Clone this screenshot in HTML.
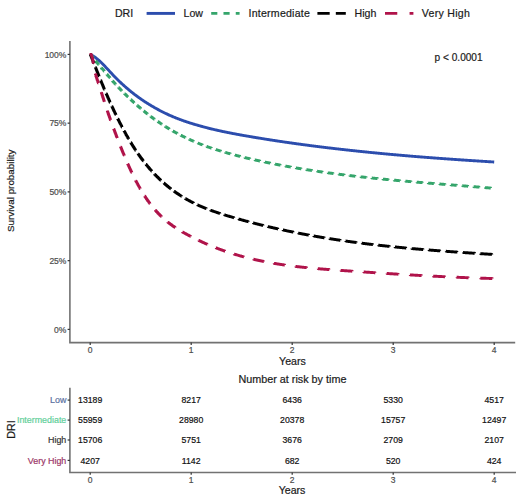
<!DOCTYPE html>
<html><head><meta charset="utf-8"><style>
html,body{margin:0;padding:0;background:#fff;}
body{width:520px;height:501px;overflow:hidden;}
svg{display:block;font-family:"Liberation Sans", sans-serif;}
text{stroke:currentColor;stroke-width:0.2px;paint-order:stroke;}
</style></head><body>
<svg width="520" height="501" viewBox="0 0 520 501">
<rect width="520" height="501" fill="#fff"/>
<text x="114.9" y="17.3" font-size="10.6" text-anchor="start" fill="#1a1a1a" color="#1a1a1a" >DRI</text>
<path d="M146.6 13.4H175.0" stroke="#2C4DAD" stroke-width="2.9" fill="none"/>
<text x="183.5" y="17.3" font-size="10.6" text-anchor="start" fill="#1a1a1a" color="#1a1a1a" >Low</text>
<path d="M211.2 13.4H239.6" stroke="#35A56B" stroke-width="2.9" stroke-dasharray="6.14 6.14" fill="none"/>
<text x="248.5" y="17.3" font-size="10.6" text-anchor="start" fill="#1a1a1a" color="#1a1a1a" textLength="61.4" lengthAdjust="spacing">Intermediate</text>
<path d="M317.4 13.4H345.79999999999995" stroke="#000000" stroke-width="2.9" stroke-dasharray="12.28 6.14" fill="none"/>
<text x="354.6" y="17.3" font-size="10.6" text-anchor="start" fill="#1a1a1a" color="#1a1a1a" >High</text>
<path d="M385.0 13.4H413.4" stroke="#B0134A" stroke-width="2.9" stroke-dasharray="12.28 12.28" fill="none"/>
<text x="421.8" y="17.3" font-size="10.6" text-anchor="start" fill="#1a1a1a" color="#1a1a1a" textLength="48.0" lengthAdjust="spacing">Very High</text>
<path d="M69.9 41V342.6H515.2" stroke="#727272" stroke-width="1.6" fill="none"/>
<path d="M67.6 54.40H69.9" stroke="#333" stroke-width="1.2"/>
<text x="66.4" y="57.49999999999998" font-size="8.5" text-anchor="end" fill="#4D4D4D" color="#4D4D4D" >100%</text>
<path d="M67.6 123.15H69.9" stroke="#333" stroke-width="1.2"/>
<text x="66.4" y="126.24999999999997" font-size="8.5" text-anchor="end" fill="#4D4D4D" color="#4D4D4D" >75%</text>
<path d="M67.6 191.90H69.9" stroke="#333" stroke-width="1.2"/>
<text x="66.4" y="194.99999999999997" font-size="8.5" text-anchor="end" fill="#4D4D4D" color="#4D4D4D" >50%</text>
<path d="M67.6 260.65H69.9" stroke="#333" stroke-width="1.2"/>
<text x="66.4" y="263.75" font-size="8.5" text-anchor="end" fill="#4D4D4D" color="#4D4D4D" >25%</text>
<path d="M67.6 329.40H69.9" stroke="#333" stroke-width="1.2"/>
<text x="66.4" y="332.5" font-size="8.5" text-anchor="end" fill="#4D4D4D" color="#4D4D4D" >0%</text>
<path d="M90.20 342.6V345" stroke="#333" stroke-width="1.2"/>
<text x="90.2" y="352.9" font-size="8.5" text-anchor="middle" fill="#4D4D4D" color="#4D4D4D" >0</text>
<path d="M191.20 342.6V345" stroke="#333" stroke-width="1.2"/>
<text x="191.2" y="352.9" font-size="8.5" text-anchor="middle" fill="#4D4D4D" color="#4D4D4D" >1</text>
<path d="M292.20 342.6V345" stroke="#333" stroke-width="1.2"/>
<text x="292.2" y="352.9" font-size="8.5" text-anchor="middle" fill="#4D4D4D" color="#4D4D4D" >2</text>
<path d="M393.20 342.6V345" stroke="#333" stroke-width="1.2"/>
<text x="393.2" y="352.9" font-size="8.5" text-anchor="middle" fill="#4D4D4D" color="#4D4D4D" >3</text>
<path d="M494.20 342.6V345" stroke="#333" stroke-width="1.2"/>
<text x="494.2" y="352.9" font-size="8.5" text-anchor="middle" fill="#4D4D4D" color="#4D4D4D" >4</text>
<text x="292.4" y="365.3" font-size="10.6" text-anchor="middle" fill="#1a1a1a" color="#1a1a1a" >Years</text>
<text x="434.6" y="60.8" font-size="10.1" text-anchor="start" fill="#1a1a1a" color="#1a1a1a" >p &lt; 0.0001</text>
<text transform="translate(14.4 190.8) rotate(-90)" font-size="9.85" text-anchor="middle" fill="#1a1a1a" color="#1a1a1a">Survival probability</text>
<path d="M90.20 54.40 L90.70 54.63 L91.20 54.89 L91.70 55.15 L92.20 55.43 L92.70 55.72 L93.20 56.03 L93.70 56.34 L94.20 56.67 L94.70 57.01 L95.20 57.37 L95.70 57.74 L96.20 58.13 L96.70 58.52 L97.20 58.93 L97.70 59.34 L98.20 59.76 L98.70 60.19 L99.20 60.63 L99.70 61.08 L100.20 61.54 L100.70 62.02 L101.20 62.51 L101.70 63.00 L102.20 63.50 L102.70 64.01 L103.20 64.52 L103.70 65.03 L104.20 65.55 L104.70 66.07 L105.20 66.60 L105.70 67.13 L106.20 67.66 L106.70 68.19 L107.20 68.73 L107.70 69.27 L108.20 69.80 L108.70 70.34 L109.20 70.88 L109.70 71.42 L110.20 71.96 L110.70 72.50 L111.20 73.03 L111.70 73.57 L112.20 74.10 L112.70 74.63 L113.20 75.16 L113.70 75.68 L114.20 76.20 L114.70 76.72 L115.20 77.23 L115.70 77.74 L116.20 78.25 L116.70 78.75 L117.20 79.25 L117.70 79.74 L118.20 80.23 L118.70 80.72 L119.20 81.20 L119.70 81.68 L120.20 82.16 L120.70 82.63 L121.20 83.10 L121.70 83.57 L122.20 84.03 L122.70 84.49 L123.20 84.94 L123.70 85.39 L124.20 85.84 L124.70 86.29 L125.20 86.73 L125.70 87.17 L126.20 87.60 L126.70 88.03 L127.20 88.46 L127.70 88.89 L128.20 89.31 L128.70 89.73 L129.20 90.15 L129.70 90.56 L130.20 90.97 L130.70 91.37 L131.20 91.78 L131.70 92.18 L132.20 92.57 L132.70 92.97 L133.20 93.36 L133.70 93.75 L134.20 94.13 L134.70 94.52 L135.20 94.90 L135.70 95.27 L136.20 95.65 L136.70 96.02 L137.20 96.39 L137.70 96.75 L138.20 97.11 L138.70 97.47 L139.20 97.83 L139.70 98.19 L140.20 98.54 L140.70 98.89 L141.20 99.23 L141.70 99.58 L142.20 99.92 L142.70 100.26 L143.20 100.60 L143.70 100.93 L144.20 101.26 L144.70 101.59 L145.20 101.92 L145.70 102.24 L146.20 102.56 L146.70 102.88 L147.20 103.20 L147.70 103.52 L148.20 103.83 L148.70 104.14 L149.20 104.45 L149.70 104.75 L150.20 105.06 L150.70 105.36 L151.20 105.66 L151.70 105.95 L152.20 106.25 L152.70 106.54 L153.20 106.83 L153.70 107.12 L154.20 107.41 L154.70 107.69 L155.20 107.97 L155.70 108.25 L156.20 108.53 L156.70 108.81 L157.20 109.08 L157.70 109.36 L158.20 109.63 L158.70 109.89 L159.20 110.16 L159.70 110.42 L160.20 110.69 L160.70 110.95 L161.20 111.20 L161.70 111.46 L162.20 111.72 L162.70 111.97 L163.20 112.22 L163.70 112.47 L164.20 112.71 L164.70 112.96 L165.20 113.20 L165.70 113.44 L166.20 113.68 L166.70 113.92 L167.20 114.16 L167.70 114.39 L168.20 114.62 L168.70 114.85 L169.20 115.08 L169.70 115.31 L170.20 115.53 L170.70 115.75 L171.20 115.96 L171.70 116.18 L172.20 116.39 L172.70 116.60 L173.20 116.81 L173.70 117.02 L174.20 117.23 L174.70 117.43 L175.20 117.64 L175.70 117.84 L176.20 118.04 L176.70 118.24 L177.20 118.43 L177.70 118.63 L178.20 118.82 L178.70 119.01 L179.20 119.20 L179.70 119.39 L180.20 119.58 L180.70 119.76 L181.20 119.95 L181.70 120.13 L182.20 120.31 L182.70 120.49 L183.20 120.67 L183.70 120.85 L184.20 121.02 L184.70 121.20 L185.20 121.37 L185.70 121.54 L186.20 121.71 L186.70 121.88 L187.20 122.05 L187.70 122.21 L188.20 122.38 L188.70 122.54 L189.20 122.70 L189.70 122.86 L190.20 123.02 L190.70 123.18 L191.20 123.33 L191.70 123.49 L192.20 123.64 L192.70 123.79 L193.20 123.95 L193.70 124.10 L194.20 124.25 L194.70 124.39 L195.20 124.54 L195.70 124.68 L196.20 124.83 L196.70 124.97 L197.20 125.11 L197.70 125.25 L198.20 125.39 L198.70 125.53 L199.20 125.67 L199.70 125.80 L200.20 125.94 L200.70 126.09 L201.20 126.23 L201.70 126.37 L202.20 126.51 L202.70 126.65 L203.20 126.78 L203.70 126.92 L204.20 127.05 L204.70 127.19 L205.20 127.32 L205.70 127.45 L206.20 127.59 L206.70 127.72 L207.20 127.85 L207.70 127.98 L208.20 128.10 L208.70 128.23 L209.20 128.36 L209.70 128.48 L210.20 128.60 L210.70 128.73 L211.20 128.85 L211.70 128.97 L212.20 129.09 L212.70 129.21 L213.20 129.33 L213.70 129.45 L214.20 129.57 L214.70 129.68 L215.20 129.80 L215.70 129.92 L216.20 130.03 L216.70 130.14 L217.20 130.26 L217.70 130.37 L218.20 130.48 L218.70 130.59 L219.20 130.70 L219.70 130.81 L220.20 130.92 L220.70 131.03 L221.20 131.14 L221.70 131.24 L222.20 131.35 L222.70 131.46 L223.20 131.56 L223.70 131.67 L224.20 131.77 L224.70 131.87 L225.20 131.98 L225.70 132.08 L226.20 132.18 L226.70 132.28 L227.20 132.38 L227.70 132.49 L228.20 132.59 L228.70 132.68 L229.20 132.78 L229.70 132.88 L230.20 132.98 L230.70 133.08 L231.20 133.18 L231.70 133.27 L232.20 133.37 L232.70 133.47 L233.20 133.56 L233.70 133.66 L234.20 133.75 L234.70 133.85 L235.20 133.94 L235.70 134.04 L236.20 134.13 L236.70 134.22 L237.20 134.32 L237.70 134.41 L238.20 134.50 L238.70 134.59 L239.20 134.69 L239.70 134.78 L240.20 134.87 L240.70 134.96 L241.20 135.05 L241.70 135.13 L242.20 135.22 L242.70 135.31 L243.20 135.40 L243.70 135.49 L244.20 135.57 L244.70 135.66 L245.20 135.75 L245.70 135.84 L246.20 135.92 L246.70 136.01 L247.20 136.09 L247.70 136.18 L248.20 136.27 L248.70 136.35 L249.20 136.44 L249.70 136.52 L250.20 136.61 L250.70 136.69 L251.20 136.78 L251.70 136.86 L252.20 136.95 L252.70 137.03 L253.20 137.12 L253.70 137.20 L254.20 137.28 L254.70 137.37 L255.20 137.45 L255.70 137.53 L256.20 137.62 L256.70 137.70 L257.20 137.78 L257.70 137.86 L258.20 137.95 L258.70 138.03 L259.20 138.11 L259.70 138.19 L260.20 138.27 L260.70 138.36 L261.20 138.44 L261.70 138.52 L262.20 138.60 L262.70 138.68 L263.20 138.76 L263.70 138.84 L264.20 138.92 L264.70 139.00 L265.20 139.08 L265.70 139.16 L266.20 139.24 L266.70 139.32 L267.20 139.40 L267.70 139.48 L268.20 139.55 L268.70 139.63 L269.20 139.71 L269.70 139.79 L270.20 139.87 L270.70 139.95 L271.20 140.02 L271.70 140.10 L272.20 140.18 L272.70 140.25 L273.20 140.33 L273.70 140.41 L274.20 140.49 L274.70 140.56 L275.20 140.64 L275.70 140.71 L276.20 140.79 L276.70 140.87 L277.20 140.94 L277.70 141.02 L278.20 141.09 L278.70 141.17 L279.20 141.24 L279.70 141.32 L280.20 141.39 L280.70 141.47 L281.20 141.54 L281.70 141.61 L282.20 141.69 L282.70 141.76 L283.20 141.84 L283.70 141.91 L284.20 141.98 L284.70 142.06 L285.20 142.13 L285.70 142.20 L286.20 142.27 L286.70 142.35 L287.20 142.42 L287.70 142.49 L288.20 142.56 L288.70 142.63 L289.20 142.71 L289.70 142.78 L290.20 142.85 L290.70 142.92 L291.20 142.99 L291.70 143.06 L292.20 143.13 L292.70 143.20 L293.20 143.27 L293.70 143.34 L294.20 143.41 L294.70 143.48 L295.20 143.55 L295.70 143.62 L296.20 143.69 L296.70 143.76 L297.20 143.83 L297.70 143.90 L298.20 143.97 L298.70 144.04 L299.20 144.11 L299.70 144.17 L300.20 144.24 L300.70 144.31 L301.20 144.38 L301.70 144.45 L302.20 144.51 L302.70 144.58 L303.20 144.65 L303.70 144.71 L304.20 144.78 L304.70 144.85 L305.20 144.92 L305.70 144.98 L306.20 145.05 L306.70 145.11 L307.20 145.18 L307.70 145.25 L308.20 145.31 L308.70 145.38 L309.20 145.44 L309.70 145.51 L310.20 145.57 L310.70 145.64 L311.20 145.70 L311.70 145.77 L312.20 145.83 L312.70 145.90 L313.20 145.96 L313.70 146.02 L314.20 146.09 L314.70 146.15 L315.20 146.22 L315.70 146.28 L316.20 146.34 L316.70 146.41 L317.20 146.47 L317.70 146.53 L318.20 146.59 L318.70 146.66 L319.20 146.72 L319.70 146.78 L320.20 146.84 L320.70 146.91 L321.20 146.97 L321.70 147.03 L322.20 147.09 L322.70 147.15 L323.20 147.21 L323.70 147.28 L324.20 147.34 L324.70 147.40 L325.20 147.46 L325.70 147.52 L326.20 147.58 L326.70 147.64 L327.20 147.70 L327.70 147.76 L328.20 147.82 L328.70 147.88 L329.20 147.94 L329.70 148.00 L330.20 148.06 L330.70 148.12 L331.20 148.18 L331.70 148.24 L332.20 148.30 L332.70 148.35 L333.20 148.41 L333.70 148.47 L334.20 148.53 L334.70 148.59 L335.20 148.65 L335.70 148.70 L336.20 148.76 L336.70 148.82 L337.20 148.88 L337.70 148.93 L338.20 148.99 L338.70 149.05 L339.20 149.11 L339.70 149.16 L340.20 149.22 L340.70 149.28 L341.20 149.33 L341.70 149.39 L342.20 149.44 L342.70 149.50 L343.20 149.56 L343.70 149.61 L344.20 149.67 L344.70 149.72 L345.20 149.78 L345.70 149.83 L346.20 149.89 L346.70 149.95 L347.20 150.00 L347.70 150.05 L348.20 150.11 L348.70 150.16 L349.20 150.22 L349.70 150.27 L350.20 150.33 L350.70 150.38 L351.20 150.44 L351.70 150.49 L352.20 150.54 L352.70 150.60 L353.20 150.65 L353.70 150.71 L354.20 150.76 L354.70 150.81 L355.20 150.87 L355.70 150.92 L356.20 150.97 L356.70 151.03 L357.20 151.08 L357.70 151.13 L358.20 151.19 L358.70 151.24 L359.20 151.29 L359.70 151.34 L360.20 151.40 L360.70 151.45 L361.20 151.50 L361.70 151.55 L362.20 151.60 L362.70 151.66 L363.20 151.71 L363.70 151.76 L364.20 151.81 L364.70 151.86 L365.20 151.91 L365.70 151.96 L366.20 152.01 L366.70 152.06 L367.20 152.12 L367.70 152.17 L368.20 152.22 L368.70 152.27 L369.20 152.32 L369.70 152.37 L370.20 152.42 L370.70 152.47 L371.20 152.52 L371.70 152.57 L372.20 152.62 L372.70 152.67 L373.20 152.71 L373.70 152.76 L374.20 152.81 L374.70 152.86 L375.20 152.91 L375.70 152.96 L376.20 153.01 L376.70 153.06 L377.20 153.10 L377.70 153.15 L378.20 153.20 L378.70 153.25 L379.20 153.30 L379.70 153.35 L380.20 153.39 L380.70 153.44 L381.20 153.49 L381.70 153.54 L382.20 153.58 L382.70 153.63 L383.20 153.68 L383.70 153.72 L384.20 153.77 L384.70 153.82 L385.20 153.87 L385.70 153.91 L386.20 153.96 L386.70 154.01 L387.20 154.05 L387.70 154.10 L388.20 154.14 L388.70 154.19 L389.20 154.24 L389.70 154.28 L390.20 154.33 L390.70 154.37 L391.20 154.42 L391.70 154.46 L392.20 154.51 L392.70 154.55 L393.20 154.60 L393.70 154.64 L394.20 154.69 L394.70 154.73 L395.20 154.78 L395.70 154.82 L396.20 154.87 L396.70 154.91 L397.20 154.96 L397.70 155.00 L398.20 155.05 L398.70 155.09 L399.20 155.13 L399.70 155.18 L400.20 155.22 L400.70 155.27 L401.20 155.31 L401.70 155.35 L402.20 155.40 L402.70 155.44 L403.20 155.48 L403.70 155.53 L404.20 155.57 L404.70 155.61 L405.20 155.65 L405.70 155.70 L406.20 155.74 L406.70 155.78 L407.20 155.82 L407.70 155.87 L408.20 155.91 L408.70 155.95 L409.20 155.99 L409.70 156.04 L410.20 156.08 L410.70 156.12 L411.20 156.16 L411.70 156.20 L412.20 156.25 L412.70 156.29 L413.20 156.33 L413.70 156.37 L414.20 156.41 L414.70 156.45 L415.20 156.49 L415.70 156.53 L416.20 156.58 L416.70 156.62 L417.20 156.66 L417.70 156.70 L418.20 156.74 L418.70 156.78 L419.20 156.82 L419.70 156.86 L420.20 156.90 L420.70 156.94 L421.20 156.98 L421.70 157.02 L422.20 157.06 L422.70 157.10 L423.20 157.13 L423.70 157.17 L424.20 157.21 L424.70 157.25 L425.20 157.29 L425.70 157.33 L426.20 157.37 L426.70 157.41 L427.20 157.44 L427.70 157.48 L428.20 157.52 L428.70 157.56 L429.20 157.60 L429.70 157.64 L430.20 157.67 L430.70 157.71 L431.20 157.75 L431.70 157.79 L432.20 157.82 L432.70 157.86 L433.20 157.90 L433.70 157.94 L434.20 157.97 L434.70 158.01 L435.20 158.05 L435.70 158.09 L436.20 158.12 L436.70 158.16 L437.20 158.20 L437.70 158.23 L438.20 158.27 L438.70 158.31 L439.20 158.34 L439.70 158.38 L440.20 158.42 L440.70 158.45 L441.20 158.49 L441.70 158.53 L442.20 158.56 L442.70 158.60 L443.20 158.63 L443.70 158.67 L444.20 158.71 L444.70 158.74 L445.20 158.78 L445.70 158.81 L446.20 158.85 L446.70 158.89 L447.20 158.92 L447.70 158.96 L448.20 158.99 L448.70 159.03 L449.20 159.06 L449.70 159.10 L450.20 159.13 L450.70 159.17 L451.20 159.20 L451.70 159.24 L452.20 159.27 L452.70 159.31 L453.20 159.34 L453.70 159.38 L454.20 159.41 L454.70 159.45 L455.20 159.48 L455.70 159.52 L456.20 159.55 L456.70 159.58 L457.20 159.62 L457.70 159.65 L458.20 159.69 L458.70 159.72 L459.20 159.76 L459.70 159.79 L460.20 159.82 L460.70 159.86 L461.20 159.89 L461.70 159.93 L462.20 159.96 L462.70 159.99 L463.20 160.03 L463.70 160.06 L464.20 160.09 L464.70 160.13 L465.20 160.16 L465.70 160.19 L466.20 160.23 L466.70 160.26 L467.20 160.29 L467.70 160.33 L468.20 160.36 L468.70 160.39 L469.20 160.43 L469.70 160.46 L470.20 160.49 L470.70 160.52 L471.20 160.56 L471.70 160.59 L472.20 160.62 L472.70 160.66 L473.20 160.69 L473.70 160.72 L474.20 160.75 L474.70 160.79 L475.20 160.82 L475.70 160.85 L476.20 160.88 L476.70 160.91 L477.20 160.95 L477.70 160.98 L478.20 161.01 L478.70 161.04 L479.20 161.08 L479.70 161.11 L480.20 161.14 L480.70 161.17 L481.20 161.20 L481.70 161.23 L482.20 161.27 L482.70 161.30 L483.20 161.33 L483.70 161.36 L484.20 161.39 L484.70 161.42 L485.20 161.46 L485.70 161.49 L486.20 161.52 L486.70 161.55 L487.20 161.58 L487.70 161.61 L488.20 161.64 L488.70 161.68 L489.20 161.71 L489.70 161.74 L490.20 161.77 L490.70 161.80 L491.20 161.83 L491.70 161.86 L492.20 161.89 L492.70 161.92 L493.20 161.95 L493.70 161.99 L494.20 162.02" stroke="#2C4DAD" stroke-width="2.9" fill="none" stroke-linejoin="round"/>
<path d="M90.20 54.40 H90.60 V54.91 H91.00 V55.43 H91.40 V55.95 H91.80 V56.46 H92.20 V56.97 H92.60 V57.48 H93.00 V57.99 H93.40 V58.49 H93.80 V58.99 H94.20 V59.50 H94.60 V59.99 H95.00 V60.49 H95.40 V60.99 H95.80 V61.48 H96.20 V61.98 H96.60 V62.47 H97.00 V62.95 H97.40 V63.44 H97.80 V63.92 H98.20 V64.40 H98.60 V64.88 H99.00 V65.36 H99.40 V65.83 H99.80 V66.31 H100.20 V66.78 H100.60 V67.25 H101.00 V67.72 H101.40 V68.18 H101.80 V68.65 H102.20 V69.11 H102.60 V69.57 H103.00 V70.03 H103.40 V70.49 H103.80 V70.95 H104.20 V71.40 H104.60 V71.85 H105.00 V72.30 H105.40 V72.79 H105.80 V73.27 H106.20 V73.75 H106.60 V74.23 H107.00 V74.71 H107.40 V75.19 H107.80 V75.66 H108.20 V76.13 H108.60 V76.61 H109.00 V77.08 H109.40 V77.54 H109.80 V78.01 H110.20 V78.47 H110.60 V78.94 H111.00 V79.40 H111.40 V79.86 H111.80 V80.31 H112.20 V80.77 H112.60 V81.22 H113.00 V81.68 H113.40 V82.13 H113.80 V82.58 H114.20 V83.02 H114.60 V83.47 H115.00 V83.91 H115.40 V84.35 H115.80 V84.78 H116.20 V85.21 H116.60 V85.64 H117.00 V86.07 H117.40 V86.49 H117.80 V86.92 H118.20 V87.34 H118.60 V87.76 H119.00 V88.18 H119.40 V88.60 H119.80 V89.02 H120.20 V89.43 H120.60 V89.85 H121.00 V90.26 H121.40 V90.67 H121.80 V91.08 H122.20 V91.48 H122.60 V91.89 H123.00 V92.29 H123.40 V92.69 H123.80 V93.10 H124.20 V93.49 H124.60 V93.89 H125.00 V94.29 H125.40 V94.68 H125.80 V95.07 H126.20 V95.47 H126.60 V95.86 H127.00 V96.24 H127.40 V96.63 H127.80 V97.02 H128.20 V97.40 H128.60 V97.78 H129.00 V98.16 H129.40 V98.54 H129.80 V98.92 H130.20 V99.29 H130.60 V99.67 H131.00 V100.05 H131.40 V100.42 H131.80 V100.79 H132.20 V101.16 H132.60 V101.53 H133.00 V101.90 H133.40 V102.26 H133.80 V102.63 H134.20 V102.99 H134.60 V103.35 H135.00 V103.71 H135.40 V104.07 H135.80 V104.43 H136.20 V104.78 H136.60 V105.14 H137.00 V105.49 H137.40 V105.84 H137.80 V106.19 H138.20 V106.54 H138.60 V106.88 H139.00 V107.23 H139.40 V107.57 H139.80 V107.92 H140.20 V108.26 H140.60 V108.60 H141.00 V108.94 H141.40 V109.27 H141.80 V109.61 H142.20 V109.94 H142.60 V110.27 H143.00 V110.61 H143.40 V110.93 H143.80 V111.26 H144.20 V111.59 H144.60 V111.92 H145.00 V112.24 H145.40 V112.56 H145.80 V112.88 H146.20 V113.20 H146.60 V113.52 H147.00 V113.84 H147.40 V114.16 H147.80 V114.47 H148.20 V114.78 H148.60 V115.10 H149.00 V115.41 H149.40 V115.72 H149.80 V116.02 H150.20 V116.33 H150.60 V116.62 H151.00 V116.92 H151.40 V117.21 H151.80 V117.51 H152.20 V117.80 H152.60 V118.09 H153.00 V118.38 H153.40 V118.66 H153.80 V118.95 H154.20 V119.24 H154.60 V119.52 H155.00 V119.80 H155.40 V120.08 H155.80 V120.36 H156.20 V120.64 H156.60 V120.92 H157.00 V121.20 H157.40 V121.47 H157.80 V121.74 H158.20 V122.02 H158.60 V122.29 H159.00 V122.56 H159.40 V122.83 H159.80 V123.09 H160.20 V123.36 H160.60 V123.62 H161.00 V123.89 H161.40 V124.15 H161.80 V124.41 H162.20 V124.67 H162.60 V124.93 H163.00 V125.19 H163.40 V125.44 H163.80 V125.70 H164.20 V125.95 H164.60 V126.21 H165.00 V126.46 H165.40 V126.71 H165.80 V126.96 H166.20 V127.21 H166.60 V127.45 H167.00 V127.70 H167.40 V127.94 H167.80 V128.19 H168.20 V128.43 H168.60 V128.67 H169.00 V128.91 H169.40 V129.15 H169.80 V129.39 H170.20 V129.62 H170.60 V129.86 H171.00 V130.09 H171.40 V130.33 H171.80 V130.56 H172.20 V130.79 H172.60 V131.02 H173.00 V131.25 H173.40 V131.48 H173.80 V131.70 H174.20 V131.93 H174.60 V132.15 H175.00 V132.38 H175.40 V132.59 H175.80 V132.81 H176.20 V133.02 H176.60 V133.24 H177.00 V133.45 H177.40 V133.66 H177.80 V133.88 H178.20 V134.09 H178.60 V134.29 H179.00 V134.50 H179.40 V134.71 H179.80 V134.92 H180.20 V135.12 H180.60 V135.32 H181.00 V135.53 H181.40 V135.73 H181.80 V135.93 H182.20 V136.13 H182.60 V136.33 H183.00 V136.53 H183.40 V136.72 H183.80 V136.92 H184.20 V137.11 H184.60 V137.31 H185.00 V137.50 H185.40 V137.69 H185.80 V137.88 H186.20 V138.07 H186.60 V138.26 H187.00 V138.45 H187.40 V138.64 H187.80 V138.82 H188.20 V139.01 H188.60 V139.19 H189.00 V139.38 H189.40 V139.56 H189.80 V139.74 H190.20 V139.92 H190.60 V140.10 H191.00 V140.28 H191.40 V140.46 H191.80 V140.63 H192.20 V140.81 H192.60 V140.99 H193.00 V141.16 H193.40 V141.33 H193.80 V141.51 H194.20 V141.68 H194.60 V141.85 H195.00 V142.02 H195.40 V142.19 H195.80 V142.35 H196.20 V142.52 H196.60 V142.69 H197.00 V142.85 H197.40 V143.02 H197.80 V143.18 H198.20 V143.34 H198.60 V143.51 H199.00 V143.67 H199.40 V143.83 H199.80 V143.99 H200.20 V144.15 H200.60 V144.30 H201.00 V144.46 H201.40 V144.61 H201.80 V144.76 H202.20 V144.92 H202.60 V145.07 H203.00 V145.22 H203.40 V145.37 H203.80 V145.52 H204.20 V145.67 H204.60 V145.82 H205.00 V145.96 H205.40 V146.11 H205.80 V146.26 H206.20 V146.40 H206.60 V146.55 H207.00 V146.69 H207.40 V146.83 H207.80 V146.97 H208.20 V147.11 H208.60 V147.25 H209.00 V147.39 H209.40 V147.53 H209.80 V147.67 H210.20 V147.81 H210.60 V147.95 H211.00 V148.08 H211.40 V148.22 H211.80 V148.35 H212.20 V148.49 H212.60 V148.62 H213.00 V148.75 H213.40 V148.88 H213.80 V149.02 H214.20 V149.15 H214.60 V149.28 H215.00 V149.41 H215.40 V149.53 H215.80 V149.66 H216.20 V149.79 H216.60 V149.92 H217.00 V150.04 H217.40 V150.17 H217.80 V150.29 H218.20 V150.42 H218.60 V150.54 H219.00 V150.66 H219.40 V150.79 H219.80 V150.91 H220.20 V151.03 H220.60 V151.15 H221.00 V151.27 H221.40 V151.39 H221.80 V151.51 H222.20 V151.62 H222.60 V151.74 H223.00 V151.86 H223.40 V151.97 H223.80 V152.09 H224.20 V152.21 H224.60 V152.32 H225.00 V152.43 H225.40 V152.55 H225.80 V152.66 H226.20 V152.77 H226.60 V152.88 H227.00 V153.00 H227.40 V153.11 H227.80 V153.22 H228.20 V153.33 H228.60 V153.44 H229.00 V153.54 H229.40 V153.65 H229.80 V153.76 H230.20 V153.87 H230.60 V153.98 H231.00 V154.09 H231.40 V154.20 H231.80 V154.31 H232.20 V154.42 H232.60 V154.53 H233.00 V154.64 H233.40 V154.75 H233.80 V154.86 H234.20 V154.97 H234.60 V155.07 H235.00 V155.18 H235.40 V155.29 H235.80 V155.39 H236.20 V155.50 H236.60 V155.60 H237.00 V155.71 H237.40 V155.81 H237.80 V155.91 H238.20 V156.02 H238.60 V156.12 H239.00 V156.22 H239.40 V156.32 H239.80 V156.42 H240.20 V156.53 H240.60 V156.63 H241.00 V156.73 H241.40 V156.83 H241.80 V156.93 H242.20 V157.02 H242.60 V157.12 H243.00 V157.22 H243.40 V157.32 H243.80 V157.42 H244.20 V157.51 H244.60 V157.61 H245.00 V157.71 H245.40 V157.80 H245.80 V157.90 H246.20 V158.00 H246.60 V158.09 H247.00 V158.18 H247.40 V158.28 H247.80 V158.37 H248.20 V158.47 H248.60 V158.56 H249.00 V158.65 H249.40 V158.75 H249.80 V158.84 H250.20 V158.93 H250.60 V159.02 H251.00 V159.12 H251.40 V159.21 H251.80 V159.30 H252.20 V159.39 H252.60 V159.48 H253.00 V159.57 H253.40 V159.66 H253.80 V159.75 H254.20 V159.84 H254.60 V159.93 H255.00 V160.02 H255.40 V160.11 H255.80 V160.19 H256.20 V160.28 H256.60 V160.37 H257.00 V160.46 H257.40 V160.55 H257.80 V160.63 H258.20 V160.72 H258.60 V160.81 H259.00 V160.89 H259.40 V160.98 H259.80 V161.07 H260.20 V161.15 H260.60 V161.24 H261.00 V161.32 H261.40 V161.41 H261.80 V161.49 H262.20 V161.58 H262.60 V161.66 H263.00 V161.75 H263.40 V161.83 H263.80 V161.91 H264.20 V162.00 H264.60 V162.08 H265.00 V162.17 H265.40 V162.25 H265.80 V162.33 H266.20 V162.41 H266.60 V162.50 H267.00 V162.58 H267.40 V162.66 H267.80 V162.74 H268.20 V162.82 H268.60 V162.91 H269.00 V162.99 H269.40 V163.07 H269.80 V163.15 H270.20 V163.23 H270.60 V163.31 H271.00 V163.39 H271.40 V163.47 H271.80 V163.55 H272.20 V163.63 H272.60 V163.71 H273.00 V163.79 H273.40 V163.86 H273.80 V163.94 H274.20 V164.02 H274.60 V164.10 H275.00 V164.18 H275.40 V164.26 H275.80 V164.33 H276.20 V164.41 H276.60 V164.49 H277.00 V164.56 H277.40 V164.64 H277.80 V164.72 H278.20 V164.79 H278.60 V164.87 H279.00 V164.95 H279.40 V165.02 H279.80 V165.10 H280.20 V165.17 H280.60 V165.25 H281.00 V165.32 H281.40 V165.40 H281.80 V165.47 H282.20 V165.55 H282.60 V165.62 H283.00 V165.69 H283.40 V165.77 H283.80 V165.84 H284.20 V165.91 H284.60 V165.99 H285.00 V166.06 H285.40 V166.13 H285.80 V166.21 H286.20 V166.28 H286.60 V166.35 H287.00 V166.42 H287.40 V166.49 H287.80 V166.57 H288.20 V166.64 H288.60 V166.71 H289.00 V166.78 H289.40 V166.85 H289.80 V166.92 H290.20 V166.99 H290.60 V167.06 H291.00 V167.13 H291.40 V167.20 H291.80 V167.27 H292.20 V167.34 H292.60 V167.41 H293.00 V167.48 H293.40 V167.55 H293.80 V167.62 H294.20 V167.68 H294.60 V167.75 H295.00 V167.82 H295.40 V167.89 H295.80 V167.96 H296.20 V168.02 H296.60 V168.09 H297.00 V168.16 H297.40 V168.23 H297.80 V168.29 H298.20 V168.36 H298.60 V168.43 H299.00 V168.49 H299.40 V168.56 H299.80 V168.63 H300.20 V168.69 H300.60 V168.76 H301.00 V168.82 H301.40 V168.89 H301.80 V168.95 H302.20 V169.02 H302.60 V169.08 H303.00 V169.15 H303.40 V169.21 H303.80 V169.28 H304.20 V169.34 H304.60 V169.40 H305.00 V169.47 H305.40 V169.53 H305.80 V169.59 H306.20 V169.66 H306.60 V169.72 H307.00 V169.78 H307.40 V169.85 H307.80 V169.91 H308.20 V169.97 H308.60 V170.03 H309.00 V170.09 H309.40 V170.16 H309.80 V170.22 H310.20 V170.28 H310.60 V170.34 H311.00 V170.40 H311.40 V170.46 H311.80 V170.52 H312.20 V170.58 H312.60 V170.65 H313.00 V170.71 H313.40 V170.77 H313.80 V170.83 H314.20 V170.89 H314.60 V170.95 H315.00 V171.00 H315.40 V171.06 H315.80 V171.12 H316.20 V171.18 H316.60 V171.24 H317.00 V171.30 H317.40 V171.36 H317.80 V171.42 H318.20 V171.48 H318.60 V171.53 H319.00 V171.59 H319.40 V171.65 H319.80 V171.71 H320.20 V171.76 H320.60 V171.82 H321.00 V171.88 H321.40 V171.94 H321.80 V171.99 H322.20 V172.05 H322.60 V172.11 H323.00 V172.16 H323.40 V172.22 H323.80 V172.27 H324.20 V172.33 H324.60 V172.39 H325.00 V172.44 H325.40 V172.50 H325.80 V172.55 H326.20 V172.61 H326.60 V172.66 H327.00 V172.72 H327.40 V172.77 H327.80 V172.83 H328.20 V172.88 H328.60 V172.94 H329.00 V172.99 H329.40 V173.04 H329.80 V173.10 H330.20 V173.15 H330.60 V173.21 H331.00 V173.26 H331.40 V173.31 H331.80 V173.37 H332.20 V173.42 H332.60 V173.47 H333.00 V173.52 H333.40 V173.58 H333.80 V173.63 H334.20 V173.68 H334.60 V173.73 H335.00 V173.79 H335.40 V173.84 H335.80 V173.89 H336.20 V173.94 H336.60 V173.99 H337.00 V174.04 H337.40 V174.10 H337.80 V174.15 H338.20 V174.20 H338.60 V174.25 H339.00 V174.30 H339.40 V174.35 H339.80 V174.40 H340.20 V174.45 H340.60 V174.50 H341.00 V174.55 H341.40 V174.60 H341.80 V174.65 H342.20 V174.70 H342.60 V174.75 H343.00 V174.80 H343.40 V174.85 H343.80 V174.90 H344.20 V174.95 H344.60 V174.99 H345.00 V175.04 H345.40 V175.09 H345.80 V175.14 H346.20 V175.19 H346.60 V175.24 H347.00 V175.29 H347.40 V175.33 H347.80 V175.38 H348.20 V175.43 H348.60 V175.48 H349.00 V175.52 H349.40 V175.57 H349.80 V175.62 H350.20 V175.67 H350.60 V175.71 H351.00 V175.76 H351.40 V175.81 H351.80 V175.85 H352.20 V175.90 H352.60 V175.95 H353.00 V175.99 H353.40 V176.04 H353.80 V176.08 H354.20 V176.13 H354.60 V176.18 H355.00 V176.22 H355.40 V176.27 H355.80 V176.31 H356.20 V176.36 H356.60 V176.40 H357.00 V176.45 H357.40 V176.49 H357.80 V176.54 H358.20 V176.58 H358.60 V176.63 H359.00 V176.67 H359.40 V176.72 H359.80 V176.76 H360.20 V176.81 H360.60 V176.85 H361.00 V176.89 H361.40 V176.94 H361.80 V176.98 H362.20 V177.03 H362.60 V177.07 H363.00 V177.11 H363.40 V177.16 H363.80 V177.20 H364.20 V177.24 H364.60 V177.29 H365.00 V177.33 H365.40 V177.37 H365.80 V177.41 H366.20 V177.46 H366.60 V177.50 H367.00 V177.54 H367.40 V177.58 H367.80 V177.63 H368.20 V177.67 H368.60 V177.71 H369.00 V177.75 H369.40 V177.79 H369.80 V177.84 H370.20 V177.88 H370.60 V177.92 H371.00 V177.96 H371.40 V178.00 H371.80 V178.04 H372.20 V178.08 H372.60 V178.13 H373.00 V178.17 H373.40 V178.21 H373.80 V178.25 H374.20 V178.29 H374.60 V178.33 H375.00 V178.37 H375.40 V178.41 H375.80 V178.45 H376.20 V178.49 H376.60 V178.53 H377.00 V178.57 H377.40 V178.61 H377.80 V178.65 H378.20 V178.69 H378.60 V178.73 H379.00 V178.77 H379.40 V178.81 H379.80 V178.85 H380.20 V178.89 H380.60 V178.93 H381.00 V178.97 H381.40 V179.01 H381.80 V179.05 H382.20 V179.08 H382.60 V179.12 H383.00 V179.16 H383.40 V179.20 H383.80 V179.24 H384.20 V179.28 H384.60 V179.32 H385.00 V179.35 H385.40 V179.39 H385.80 V179.43 H386.20 V179.47 H386.60 V179.51 H387.00 V179.54 H387.40 V179.58 H387.80 V179.62 H388.20 V179.66 H388.60 V179.70 H389.00 V179.73 H389.40 V179.77 H389.80 V179.81 H390.20 V179.85 H390.60 V179.88 H391.00 V179.92 H391.40 V179.96 H391.80 V179.99 H392.20 V180.03 H392.60 V180.07 H393.00 V180.11 H393.40 V180.14 H393.80 V180.18 H394.20 V180.22 H394.60 V180.25 H395.00 V180.29 H395.40 V180.32 H395.80 V180.36 H396.20 V180.40 H396.60 V180.43 H397.00 V180.47 H397.40 V180.51 H397.80 V180.54 H398.20 V180.58 H398.60 V180.61 H399.00 V180.65 H399.40 V180.68 H399.80 V180.72 H400.20 V180.76 H400.60 V180.79 H401.00 V180.83 H401.40 V180.86 H401.80 V180.90 H402.20 V180.93 H402.60 V180.97 H403.00 V181.00 H403.40 V181.04 H403.80 V181.07 H404.20 V181.11 H404.60 V181.14 H405.00 V181.18 H405.40 V181.21 H405.80 V181.25 H406.20 V181.28 H406.60 V181.32 H407.00 V181.35 H407.40 V181.39 H407.80 V181.42 H408.20 V181.46 H408.60 V181.49 H409.00 V181.52 H409.40 V181.56 H409.80 V181.59 H410.20 V181.63 H410.60 V181.66 H411.00 V181.70 H411.40 V181.73 H411.80 V181.76 H412.20 V181.80 H412.60 V181.83 H413.00 V181.87 H413.40 V181.90 H413.80 V181.93 H414.20 V181.97 H414.60 V182.00 H415.00 V182.03 H415.40 V182.07 H415.80 V182.10 H416.20 V182.13 H416.60 V182.17 H417.00 V182.20 H417.40 V182.23 H417.80 V182.27 H418.20 V182.30 H418.60 V182.33 H419.00 V182.37 H419.40 V182.40 H419.80 V182.43 H420.20 V182.47 H420.60 V182.50 H421.00 V182.53 H421.40 V182.56 H421.80 V182.60 H422.20 V182.63 H422.60 V182.66 H423.00 V182.70 H423.40 V182.73 H423.80 V182.76 H424.20 V182.79 H424.60 V182.83 H425.00 V182.86 H425.40 V182.89 H425.80 V182.92 H426.20 V182.96 H426.60 V182.99 H427.00 V183.02 H427.40 V183.05 H427.80 V183.09 H428.20 V183.12 H428.60 V183.15 H429.00 V183.18 H429.40 V183.22 H429.80 V183.25 H430.20 V183.28 H430.60 V183.31 H431.00 V183.34 H431.40 V183.38 H431.80 V183.41 H432.20 V183.44 H432.60 V183.47 H433.00 V183.50 H433.40 V183.54 H433.80 V183.57 H434.20 V183.60 H434.60 V183.63 H435.00 V183.66 H435.40 V183.70 H435.80 V183.73 H436.20 V183.76 H436.60 V183.79 H437.00 V183.82 H437.40 V183.85 H437.80 V183.89 H438.20 V183.92 H438.60 V183.95 H439.00 V183.98 H439.40 V184.01 H439.80 V184.04 H440.20 V184.08 H440.60 V184.11 H441.00 V184.14 H441.40 V184.17 H441.80 V184.20 H442.20 V184.23 H442.60 V184.26 H443.00 V184.30 H443.40 V184.33 H443.80 V184.36 H444.20 V184.39 H444.60 V184.42 H445.00 V184.45 H445.40 V184.48 H445.80 V184.52 H446.20 V184.55 H446.60 V184.58 H447.00 V184.61 H447.40 V184.64 H447.80 V184.67 H448.20 V184.70 H448.60 V184.74 H449.00 V184.77 H449.40 V184.80 H449.80 V184.83 H450.20 V184.86 H450.60 V184.89 H451.00 V184.92 H451.40 V184.95 H451.80 V184.99 H452.20 V185.02 H452.60 V185.05 H453.00 V185.08 H453.40 V185.11 H453.80 V185.14 H454.20 V185.17 H454.60 V185.20 H455.00 V185.24 H455.40 V185.27 H455.80 V185.30 H456.20 V185.33 H456.60 V185.36 H457.00 V185.39 H457.40 V185.42 H457.80 V185.45 H458.20 V185.49 H458.60 V185.52 H459.00 V185.55 H459.40 V185.58 H459.80 V185.61 H460.20 V185.64 H460.60 V185.67 H461.00 V185.70 H461.40 V185.74 H461.80 V185.77 H462.20 V185.80 H462.60 V185.83 H463.00 V185.86 H463.40 V185.89 H463.80 V185.92 H464.20 V185.95 H464.60 V185.99 H465.00 V186.02 H465.40 V186.05 H465.80 V186.08 H466.20 V186.11 H466.60 V186.14 H467.00 V186.17 H467.40 V186.21 H467.80 V186.24 H468.20 V186.27 H468.60 V186.30 H469.00 V186.33 H469.40 V186.36 H469.80 V186.40 H470.20 V186.43 H470.60 V186.46 H471.00 V186.49 H471.40 V186.52 H471.80 V186.55 H472.20 V186.58 H472.60 V186.62 H473.00 V186.65 H473.40 V186.68 H473.80 V186.71 H474.20 V186.74 H474.60 V186.78 H475.00 V186.81 H475.40 V186.84 H475.80 V186.87 H476.20 V186.90 H476.60 V186.93 H477.00 V186.97 H477.40 V187.00 H477.80 V187.03 H478.20 V187.06 H478.60 V187.09 H479.00 V187.13 H479.40 V187.16 H479.80 V187.19 H480.20 V187.22 H480.60 V187.25 H481.00 V187.29 H481.40 V187.32 H481.80 V187.35 H482.20 V187.38 H482.60 V187.42 H483.00 V187.45 H483.40 V187.48 H483.80 V187.51 H484.20 V187.55 H484.60 V187.58 H485.00 V187.61 H485.40 V187.64 H485.80 V187.68 H486.20 V187.71 H486.60 V187.74 H487.00 V187.77 H487.40 V187.81 H487.80 V187.84 H488.20 V187.87 H488.60 V187.90 H489.00 V187.94 H489.40 V187.97 H489.80 V188.00 H490.20 V188.04 H490.60 V188.07 H491.00 V188.10 H491.40 V188.14 H491.80 V188.17 H492.20 V188.20 H492.60 V188.24 H493.00 V188.27 H493.40 V188.30 H493.80 V188.34 H494.20 V188.37" stroke="#35A56B" stroke-width="2.9" fill="none" stroke-linejoin="round" stroke-dasharray="6.14 6.14"/>
<path d="M90.20 54.40 H90.60 V55.44 H91.00 V56.49 H91.40 V57.53 H91.80 V58.57 H92.20 V59.61 H92.60 V60.64 H93.00 V61.67 H93.40 V62.70 H93.80 V63.72 H94.20 V64.75 H94.60 V65.77 H95.00 V66.78 H95.40 V67.80 H95.80 V68.81 H96.20 V69.82 H96.60 V70.82 H97.00 V71.83 H97.40 V72.82 H97.80 V73.82 H98.20 V74.81 H98.60 V75.81 H99.00 V76.79 H99.40 V77.78 H99.80 V78.76 H100.20 V79.74 H100.60 V80.71 H101.00 V81.68 H101.40 V82.65 H101.80 V83.61 H102.20 V84.58 H102.60 V85.53 H103.00 V86.49 H103.40 V87.44 H103.80 V88.39 H104.20 V89.33 H104.60 V90.27 H105.00 V91.21 H105.40 V92.15 H105.80 V93.08 H106.20 V94.00 H106.60 V94.93 H107.00 V95.85 H107.40 V96.76 H107.80 V97.67 H108.20 V98.58 H108.60 V99.49 H109.00 V100.39 H109.40 V101.28 H109.80 V102.18 H110.20 V103.07 H110.60 V103.95 H111.00 V104.83 H111.40 V105.71 H111.80 V106.58 H112.20 V107.45 H112.60 V108.32 H113.00 V109.18 H113.40 V110.04 H113.80 V110.89 H114.20 V111.74 H114.60 V112.58 H115.00 V113.42 H115.40 V114.26 H115.80 V115.09 H116.20 V115.92 H116.60 V116.74 H117.00 V117.56 H117.40 V118.38 H117.80 V119.19 H118.20 V119.99 H118.60 V120.80 H119.00 V121.59 H119.40 V122.39 H119.80 V123.17 H120.20 V123.96 H120.60 V124.74 H121.00 V125.51 H121.40 V126.28 H121.80 V127.04 H122.20 V127.80 H122.60 V128.56 H123.00 V129.31 H123.40 V130.06 H123.80 V130.80 H124.20 V131.53 H124.60 V132.26 H125.00 V132.99 H125.40 V133.71 H125.80 V134.43 H126.20 V135.14 H126.60 V135.85 H127.00 V136.55 H127.40 V137.24 H127.80 V137.94 H128.20 V138.62 H128.60 V139.30 H129.00 V139.98 H129.40 V140.65 H129.80 V141.32 H130.20 V141.98 H130.60 V142.64 H131.00 V143.30 H131.40 V143.95 H131.80 V144.59 H132.20 V145.23 H132.60 V145.86 H133.00 V146.49 H133.40 V147.12 H133.80 V147.74 H134.20 V148.36 H134.60 V148.97 H135.00 V149.58 H135.40 V150.18 H135.80 V150.78 H136.20 V151.38 H136.60 V151.97 H137.00 V152.55 H137.40 V153.13 H137.80 V153.71 H138.20 V154.28 H138.60 V154.85 H139.00 V155.42 H139.40 V155.98 H139.80 V156.54 H140.20 V157.09 H140.60 V157.64 H141.00 V158.18 H141.40 V158.72 H141.80 V159.26 H142.20 V159.79 H142.60 V160.32 H143.00 V160.84 H143.40 V161.36 H143.80 V161.88 H144.20 V162.39 H144.60 V162.90 H145.00 V163.40 H145.40 V163.90 H145.80 V164.40 H146.20 V164.89 H146.60 V165.38 H147.00 V165.87 H147.40 V166.35 H147.80 V166.83 H148.20 V167.31 H148.60 V167.78 H149.00 V168.24 H149.40 V168.71 H149.80 V169.17 H150.20 V169.63 H150.60 V170.08 H151.00 V170.53 H151.40 V170.98 H151.80 V171.42 H152.20 V171.86 H152.60 V172.30 H153.00 V172.73 H153.40 V173.16 H153.80 V173.59 H154.20 V174.01 H154.60 V174.43 H155.00 V174.85 H155.40 V175.26 H155.80 V175.67 H156.20 V176.08 H156.60 V176.48 H157.00 V176.88 H157.40 V177.28 H157.80 V177.67 H158.20 V178.07 H158.60 V178.46 H159.00 V178.84 H159.40 V179.22 H159.80 V179.60 H160.20 V179.98 H160.60 V180.36 H161.00 V180.73 H161.40 V181.10 H161.80 V181.46 H162.20 V181.82 H162.60 V182.18 H163.00 V182.54 H163.40 V182.90 H163.80 V183.25 H164.20 V183.60 H164.60 V183.94 H165.00 V184.29 H165.40 V184.63 H165.80 V184.97 H166.20 V185.31 H166.60 V185.64 H167.00 V185.97 H167.40 V186.30 H167.80 V186.63 H168.20 V186.95 H168.60 V187.27 H169.00 V187.59 H169.40 V187.91 H169.80 V188.22 H170.20 V188.54 H170.60 V188.84 H171.00 V189.15 H171.40 V189.46 H171.80 V189.76 H172.20 V190.06 H172.60 V190.36 H173.00 V190.65 H173.40 V190.95 H173.80 V191.24 H174.20 V191.53 H174.60 V191.81 H175.00 V192.10 H175.40 V192.38 H175.80 V192.66 H176.20 V192.94 H176.60 V193.22 H177.00 V193.49 H177.40 V193.76 H177.80 V194.03 H178.20 V194.30 H178.60 V194.56 H179.00 V194.83 H179.40 V195.09 H179.80 V195.35 H180.20 V195.61 H180.60 V195.86 H181.00 V196.11 H181.40 V196.37 H181.80 V196.61 H182.20 V196.86 H182.60 V197.11 H183.00 V197.35 H183.40 V197.59 H183.80 V197.83 H184.20 V198.07 H184.60 V198.31 H185.00 V198.54 H185.40 V198.77 H185.80 V199.00 H186.20 V199.23 H186.60 V199.46 H187.00 V199.68 H187.40 V199.91 H187.80 V200.13 H188.20 V200.35 H188.60 V200.57 H189.00 V200.78 H189.40 V201.00 H189.80 V201.21 H190.20 V201.42 H190.60 V201.63 H191.00 V201.84 H191.40 V202.05 H191.80 V202.25 H192.20 V202.46 H192.60 V202.66 H193.00 V202.86 H193.40 V203.06 H193.80 V203.26 H194.20 V203.45 H194.60 V203.65 H195.00 V203.84 H195.40 V204.03 H195.80 V204.22 H196.20 V204.41 H196.60 V204.60 H197.00 V204.78 H197.40 V204.96 H197.80 V205.15 H198.20 V205.33 H198.60 V205.51 H199.00 V205.69 H199.40 V205.87 H199.80 V206.04 H200.20 V206.22 H200.60 V206.39 H201.00 V206.56 H201.40 V206.73 H201.80 V206.90 H202.20 V207.07 H202.60 V207.24 H203.00 V207.40 H203.40 V207.57 H203.80 V207.73 H204.20 V207.90 H204.60 V208.06 H205.00 V208.22 H205.40 V208.38 H205.80 V208.53 H206.20 V208.69 H206.60 V208.85 H207.00 V209.00 H207.40 V209.16 H207.80 V209.31 H208.20 V209.46 H208.60 V209.61 H209.00 V209.76 H209.40 V209.91 H209.80 V210.06 H210.20 V210.21 H210.60 V210.35 H211.00 V210.50 H211.40 V210.64 H211.80 V210.78 H212.20 V210.93 H212.60 V211.07 H213.00 V211.21 H213.40 V211.35 H213.80 V211.49 H214.20 V211.63 H214.60 V211.76 H215.00 V211.90 H215.40 V212.04 H215.80 V212.17 H216.20 V212.31 H216.60 V212.44 H217.00 V212.57 H217.40 V212.71 H217.80 V212.84 H218.20 V212.97 H218.60 V213.10 H219.00 V213.23 H219.40 V213.36 H219.80 V213.49 H220.20 V213.62 H220.60 V213.74 H221.00 V213.87 H221.40 V214.00 H221.80 V214.12 H222.20 V214.25 H222.60 V214.37 H223.00 V214.50 H223.40 V214.62 H223.80 V214.75 H224.20 V214.87 H224.60 V214.99 H225.00 V215.11 H225.40 V215.24 H225.80 V215.36 H226.20 V215.48 H226.60 V215.60 H227.00 V215.72 H227.40 V215.84 H227.80 V215.96 H228.20 V216.08 H228.60 V216.20 H229.00 V216.32 H229.40 V216.44 H229.80 V216.56 H230.20 V216.67 H230.60 V216.79 H231.00 V216.91 H231.40 V217.03 H231.80 V217.14 H232.20 V217.26 H232.60 V217.38 H233.00 V217.49 H233.40 V217.61 H233.80 V217.73 H234.20 V217.84 H234.60 V217.96 H235.00 V218.07 H235.40 V218.19 H235.80 V218.30 H236.20 V218.41 H236.60 V218.53 H237.00 V218.64 H237.40 V218.76 H237.80 V218.87 H238.20 V218.98 H238.60 V219.09 H239.00 V219.21 H239.40 V219.32 H239.80 V219.43 H240.20 V219.54 H240.60 V219.65 H241.00 V219.76 H241.40 V219.88 H241.80 V219.99 H242.20 V220.10 H242.60 V220.21 H243.00 V220.32 H243.40 V220.43 H243.80 V220.53 H244.20 V220.64 H244.60 V220.75 H245.00 V220.86 H245.40 V220.97 H245.80 V221.08 H246.20 V221.19 H246.60 V221.29 H247.00 V221.40 H247.40 V221.51 H247.80 V221.61 H248.20 V221.72 H248.60 V221.83 H249.00 V221.93 H249.40 V222.04 H249.80 V222.14 H250.20 V222.25 H250.60 V222.35 H251.00 V222.46 H251.40 V222.56 H251.80 V222.67 H252.20 V222.77 H252.60 V222.87 H253.00 V222.98 H253.40 V223.08 H253.80 V223.18 H254.20 V223.29 H254.60 V223.39 H255.00 V223.49 H255.40 V223.59 H255.80 V223.70 H256.20 V223.80 H256.60 V223.90 H257.00 V224.00 H257.40 V224.10 H257.80 V224.20 H258.20 V224.30 H258.60 V224.40 H259.00 V224.50 H259.40 V224.60 H259.80 V224.70 H260.20 V224.80 H260.60 V224.90 H261.00 V225.00 H261.40 V225.09 H261.80 V225.19 H262.20 V225.29 H262.60 V225.39 H263.00 V225.49 H263.40 V225.58 H263.80 V225.68 H264.20 V225.78 H264.60 V225.87 H265.00 V225.97 H265.40 V226.07 H265.80 V226.16 H266.20 V226.26 H266.60 V226.35 H267.00 V226.45 H267.40 V226.54 H267.80 V226.64 H268.20 V226.73 H268.60 V226.83 H269.00 V226.92 H269.40 V227.01 H269.80 V227.11 H270.20 V227.20 H270.60 V227.29 H271.00 V227.38 H271.40 V227.48 H271.80 V227.57 H272.20 V227.66 H272.60 V227.75 H273.00 V227.85 H273.40 V227.94 H273.80 V228.03 H274.20 V228.12 H274.60 V228.21 H275.00 V228.30 H275.40 V228.39 H275.80 V228.48 H276.20 V228.57 H276.60 V228.66 H277.00 V228.75 H277.40 V228.84 H277.80 V228.93 H278.20 V229.02 H278.60 V229.10 H279.00 V229.19 H279.40 V229.28 H279.80 V229.37 H280.20 V229.46 H280.60 V229.54 H281.00 V229.63 H281.40 V229.72 H281.80 V229.80 H282.20 V229.89 H282.60 V229.98 H283.00 V230.06 H283.40 V230.15 H283.80 V230.23 H284.20 V230.32 H284.60 V230.40 H285.00 V230.49 H285.40 V230.57 H285.80 V230.66 H286.20 V230.74 H286.60 V230.83 H287.00 V230.91 H287.40 V230.99 H287.80 V231.08 H288.20 V231.16 H288.60 V231.24 H289.00 V231.33 H289.40 V231.41 H289.80 V231.49 H290.20 V231.57 H290.60 V231.66 H291.00 V231.74 H291.40 V231.82 H291.80 V231.90 H292.20 V231.98 H292.60 V232.06 H293.00 V232.14 H293.40 V232.22 H293.80 V232.30 H294.20 V232.38 H294.60 V232.46 H295.00 V232.54 H295.40 V232.62 H295.80 V232.70 H296.20 V232.78 H296.60 V232.86 H297.00 V232.94 H297.40 V233.02 H297.80 V233.09 H298.20 V233.17 H298.60 V233.25 H299.00 V233.33 H299.40 V233.41 H299.80 V233.48 H300.20 V233.56 H300.60 V233.64 H301.00 V233.71 H301.40 V233.79 H301.80 V233.87 H302.20 V233.94 H302.60 V234.02 H303.00 V234.09 H303.40 V234.17 H303.80 V234.24 H304.20 V234.32 H304.60 V234.39 H305.00 V234.47 H305.40 V234.54 H305.80 V234.62 H306.20 V234.69 H306.60 V234.76 H307.00 V234.84 H307.40 V234.91 H307.80 V234.98 H308.20 V235.06 H308.60 V235.13 H309.00 V235.20 H309.40 V235.28 H309.80 V235.35 H310.20 V235.42 H310.60 V235.49 H311.00 V235.56 H311.40 V235.64 H311.80 V235.71 H312.20 V235.78 H312.60 V235.85 H313.00 V235.92 H313.40 V235.99 H313.80 V236.06 H314.20 V236.13 H314.60 V236.20 H315.00 V236.27 H315.40 V236.34 H315.80 V236.41 H316.20 V236.48 H316.60 V236.55 H317.00 V236.62 H317.40 V236.68 H317.80 V236.75 H318.20 V236.82 H318.60 V236.89 H319.00 V236.96 H319.40 V237.03 H319.80 V237.09 H320.20 V237.16 H320.60 V237.23 H321.00 V237.29 H321.40 V237.36 H321.80 V237.43 H322.20 V237.49 H322.60 V237.56 H323.00 V237.63 H323.40 V237.69 H323.80 V237.76 H324.20 V237.82 H324.60 V237.89 H325.00 V237.96 H325.40 V238.02 H325.80 V238.09 H326.20 V238.15 H326.60 V238.21 H327.00 V238.28 H327.40 V238.34 H327.80 V238.41 H328.20 V238.47 H328.60 V238.53 H329.00 V238.60 H329.40 V238.66 H329.80 V238.72 H330.20 V238.79 H330.60 V238.85 H331.00 V238.91 H331.40 V238.98 H331.80 V239.04 H332.20 V239.10 H332.60 V239.16 H333.00 V239.22 H333.40 V239.28 H333.80 V239.35 H334.20 V239.41 H334.60 V239.47 H335.00 V239.53 H335.40 V239.59 H335.80 V239.65 H336.20 V239.71 H336.60 V239.77 H337.00 V239.83 H337.40 V239.89 H337.80 V239.95 H338.20 V240.01 H338.60 V240.07 H339.00 V240.13 H339.40 V240.19 H339.80 V240.25 H340.20 V240.31 H340.60 V240.36 H341.00 V240.42 H341.40 V240.48 H341.80 V240.54 H342.20 V240.60 H342.60 V240.66 H343.00 V240.71 H343.40 V240.77 H343.80 V240.83 H344.20 V240.89 H344.60 V240.94 H345.00 V241.00 H345.40 V241.06 H345.80 V241.11 H346.20 V241.17 H346.60 V241.22 H347.00 V241.28 H347.40 V241.34 H347.80 V241.39 H348.20 V241.45 H348.60 V241.50 H349.00 V241.56 H349.40 V241.61 H349.80 V241.67 H350.20 V241.72 H350.60 V241.78 H351.00 V241.83 H351.40 V241.89 H351.80 V241.94 H352.20 V242.00 H352.60 V242.05 H353.00 V242.10 H353.40 V242.16 H353.80 V242.21 H354.20 V242.26 H354.60 V242.32 H355.00 V242.37 H355.40 V242.42 H355.80 V242.48 H356.20 V242.53 H356.60 V242.58 H357.00 V242.63 H357.40 V242.68 H357.80 V242.74 H358.20 V242.79 H358.60 V242.84 H359.00 V242.89 H359.40 V242.94 H359.80 V242.99 H360.20 V243.05 H360.60 V243.10 H361.00 V243.15 H361.40 V243.20 H361.80 V243.25 H362.20 V243.30 H362.60 V243.35 H363.00 V243.40 H363.40 V243.45 H363.80 V243.50 H364.20 V243.55 H364.60 V243.60 H365.00 V243.65 H365.40 V243.70 H365.80 V243.75 H366.20 V243.80 H366.60 V243.84 H367.00 V243.89 H367.40 V243.94 H367.80 V243.99 H368.20 V244.04 H368.60 V244.09 H369.00 V244.13 H369.40 V244.18 H369.80 V244.23 H370.20 V244.28 H370.60 V244.33 H371.00 V244.37 H371.40 V244.42 H371.80 V244.47 H372.20 V244.51 H372.60 V244.56 H373.00 V244.61 H373.40 V244.65 H373.80 V244.70 H374.20 V244.75 H374.60 V244.79 H375.00 V244.84 H375.40 V244.88 H375.80 V244.93 H376.20 V244.98 H376.60 V245.02 H377.00 V245.07 H377.40 V245.11 H377.80 V245.16 H378.20 V245.20 H378.60 V245.25 H379.00 V245.29 H379.40 V245.34 H379.80 V245.38 H380.20 V245.43 H380.60 V245.47 H381.00 V245.51 H381.40 V245.56 H381.80 V245.60 H382.20 V245.65 H382.60 V245.69 H383.00 V245.73 H383.40 V245.78 H383.80 V245.82 H384.20 V245.86 H384.60 V245.91 H385.00 V245.95 H385.40 V245.99 H385.80 V246.04 H386.20 V246.08 H386.60 V246.12 H387.00 V246.16 H387.40 V246.21 H387.80 V246.25 H388.20 V246.29 H388.60 V246.33 H389.00 V246.37 H389.40 V246.41 H389.80 V246.46 H390.20 V246.50 H390.60 V246.54 H391.00 V246.58 H391.40 V246.62 H391.80 V246.66 H392.20 V246.70 H392.60 V246.74 H393.00 V246.78 H393.40 V246.82 H393.80 V246.87 H394.20 V246.91 H394.60 V246.95 H395.00 V246.99 H395.40 V247.03 H395.80 V247.07 H396.20 V247.11 H396.60 V247.15 H397.00 V247.18 H397.40 V247.22 H397.80 V247.26 H398.20 V247.30 H398.60 V247.34 H399.00 V247.38 H399.40 V247.42 H399.80 V247.46 H400.20 V247.50 H400.60 V247.54 H401.00 V247.57 H401.40 V247.61 H401.80 V247.65 H402.20 V247.69 H402.60 V247.73 H403.00 V247.77 H403.40 V247.80 H403.80 V247.84 H404.20 V247.88 H404.60 V247.92 H405.00 V247.95 H405.40 V247.99 H405.80 V248.03 H406.20 V248.07 H406.60 V248.10 H407.00 V248.14 H407.40 V248.18 H407.80 V248.21 H408.20 V248.25 H408.60 V248.29 H409.00 V248.32 H409.40 V248.36 H409.80 V248.40 H410.20 V248.43 H410.60 V248.47 H411.00 V248.50 H411.40 V248.54 H411.80 V248.58 H412.20 V248.61 H412.60 V248.65 H413.00 V248.68 H413.40 V248.72 H413.80 V248.75 H414.20 V248.79 H414.60 V248.82 H415.00 V248.86 H415.40 V248.89 H415.80 V248.93 H416.20 V248.96 H416.60 V249.00 H417.00 V249.03 H417.40 V249.07 H417.80 V249.10 H418.20 V249.14 H418.60 V249.17 H419.00 V249.21 H419.40 V249.24 H419.80 V249.27 H420.20 V249.31 H420.60 V249.34 H421.00 V249.38 H421.40 V249.41 H421.80 V249.44 H422.20 V249.48 H422.60 V249.51 H423.00 V249.54 H423.40 V249.58 H423.80 V249.61 H424.20 V249.64 H424.60 V249.68 H425.00 V249.71 H425.40 V249.74 H425.80 V249.77 H426.20 V249.81 H426.60 V249.84 H427.00 V249.87 H427.40 V249.90 H427.80 V249.94 H428.20 V249.97 H428.60 V250.00 H429.00 V250.03 H429.40 V250.07 H429.80 V250.10 H430.20 V250.13 H430.60 V250.16 H431.00 V250.19 H431.40 V250.23 H431.80 V250.26 H432.20 V250.29 H432.60 V250.32 H433.00 V250.35 H433.40 V250.38 H433.80 V250.41 H434.20 V250.45 H434.60 V250.48 H435.00 V250.51 H435.40 V250.54 H435.80 V250.57 H436.20 V250.60 H436.60 V250.63 H437.00 V250.66 H437.40 V250.69 H437.80 V250.72 H438.20 V250.75 H438.60 V250.78 H439.00 V250.81 H439.40 V250.84 H439.80 V250.87 H440.20 V250.90 H440.60 V250.93 H441.00 V250.96 H441.40 V250.99 H441.80 V251.02 H442.20 V251.05 H442.60 V251.08 H443.00 V251.11 H443.40 V251.14 H443.80 V251.17 H444.20 V251.20 H444.60 V251.23 H445.00 V251.26 H445.40 V251.29 H445.80 V251.32 H446.20 V251.35 H446.60 V251.38 H447.00 V251.41 H447.40 V251.44 H447.80 V251.47 H448.20 V251.50 H448.60 V251.52 H449.00 V251.55 H449.40 V251.58 H449.80 V251.61 H450.20 V251.64 H450.60 V251.67 H451.00 V251.70 H451.40 V251.72 H451.80 V251.75 H452.20 V251.78 H452.60 V251.81 H453.00 V251.84 H453.40 V251.87 H453.80 V251.89 H454.20 V251.92 H454.60 V251.95 H455.00 V251.98 H455.40 V252.01 H455.80 V252.03 H456.20 V252.06 H456.60 V252.09 H457.00 V252.12 H457.40 V252.15 H457.80 V252.17 H458.20 V252.20 H458.60 V252.23 H459.00 V252.26 H459.40 V252.28 H459.80 V252.31 H460.20 V252.34 H460.60 V252.37 H461.00 V252.39 H461.40 V252.42 H461.80 V252.45 H462.20 V252.47 H462.60 V252.50 H463.00 V252.53 H463.40 V252.56 H463.80 V252.58 H464.20 V252.61 H464.60 V252.64 H465.00 V252.66 H465.40 V252.69 H465.80 V252.72 H466.20 V252.74 H466.60 V252.77 H467.00 V252.80 H467.40 V252.82 H467.80 V252.85 H468.20 V252.88 H468.60 V252.90 H469.00 V252.93 H469.40 V252.96 H469.80 V252.98 H470.20 V253.01 H470.60 V253.03 H471.00 V253.06 H471.40 V253.09 H471.80 V253.11 H472.20 V253.14 H472.60 V253.17 H473.00 V253.19 H473.40 V253.22 H473.80 V253.24 H474.20 V253.27 H474.60 V253.30 H475.00 V253.32 H475.40 V253.35 H475.80 V253.37 H476.20 V253.40 H476.60 V253.42 H477.00 V253.45 H477.40 V253.48 H477.80 V253.50 H478.20 V253.53 H478.60 V253.55 H479.00 V253.58 H479.40 V253.60 H479.80 V253.63 H480.20 V253.66 H480.60 V253.68 H481.00 V253.71 H481.40 V253.73 H481.80 V253.76 H482.20 V253.78 H482.60 V253.81 H483.00 V253.83 H483.40 V253.86 H483.80 V253.88 H484.20 V253.91 H484.60 V253.93 H485.00 V253.96 H485.40 V253.98 H485.80 V254.01 H486.20 V254.04 H486.60 V254.06 H487.00 V254.09 H487.40 V254.11 H487.80 V254.14 H488.20 V254.16 H488.60 V254.19 H489.00 V254.21 H489.40 V254.24 H489.80 V254.26 H490.20 V254.29 H490.60 V254.31 H491.00 V254.34 H491.40 V254.36 H491.80 V254.39 H492.20 V254.41 H492.60 V254.44 H493.00 V254.46 H493.40 V254.48 H493.80 V254.51 H494.20 V254.53" stroke="#000000" stroke-width="2.9" fill="none" stroke-linejoin="round" stroke-dasharray="12.28 6.14"/>
<path d="M90.20 54.40 H90.60 V54.35 H91.00 V54.82 H91.40 V55.74 H91.80 V57.04 H92.20 V58.65 H92.60 V60.50 H93.00 V62.53 H93.40 V64.66 H93.80 V66.82 H94.20 V68.95 H94.60 V70.97 H95.00 V72.82 H95.40 V74.48 H95.80 V75.98 H96.20 V77.34 H96.60 V78.59 H97.00 V79.75 H97.40 V80.86 H97.80 V81.95 H98.20 V83.04 H98.60 V84.16 H99.00 V85.33 H99.40 V86.57 H99.80 V87.85 H100.20 V89.17 H100.60 V90.49 H101.00 V91.82 H101.40 V93.13 H101.80 V94.44 H102.20 V95.73 H102.60 V97.01 H103.00 V98.28 H103.40 V99.55 H103.80 V100.80 H104.20 V102.04 H104.60 V103.28 H105.00 V104.50 H105.40 V105.71 H105.80 V106.92 H106.20 V108.12 H106.60 V109.31 H107.00 V110.49 H107.40 V111.66 H107.80 V112.83 H108.20 V113.99 H108.60 V115.14 H109.00 V116.28 H109.40 V117.42 H109.80 V118.55 H110.20 V119.68 H110.60 V120.80 H111.00 V121.91 H111.40 V123.02 H111.80 V124.12 H112.20 V125.21 H112.60 V126.30 H113.00 V127.39 H113.40 V128.47 H113.80 V129.55 H114.20 V130.62 H114.60 V131.69 H115.00 V132.76 H115.40 V133.82 H115.80 V134.87 H116.20 V135.93 H116.60 V136.98 H117.00 V138.02 H117.40 V139.06 H117.80 V140.10 H118.20 V141.13 H118.60 V142.16 H119.00 V143.18 H119.40 V144.20 H119.80 V145.21 H120.20 V146.22 H120.60 V147.22 H121.00 V148.22 H121.40 V149.22 H121.80 V150.20 H122.20 V151.19 H122.60 V152.17 H123.00 V153.14 H123.40 V154.11 H123.80 V155.07 H124.20 V156.03 H124.60 V156.98 H125.00 V157.93 H125.40 V158.87 H125.80 V159.80 H126.20 V160.73 H126.60 V161.66 H127.00 V162.58 H127.40 V163.49 H127.80 V164.39 H128.20 V165.29 H128.60 V166.19 H129.00 V167.08 H129.40 V167.96 H129.80 V168.83 H130.20 V169.70 H130.60 V170.56 H131.00 V171.42 H131.40 V172.27 H131.80 V173.11 H132.20 V173.95 H132.60 V174.78 H133.00 V175.60 H133.40 V176.42 H133.80 V177.23 H134.20 V178.03 H134.60 V178.82 H135.00 V179.61 H135.40 V180.39 H135.80 V181.16 H136.20 V181.93 H136.60 V182.69 H137.00 V183.44 H137.40 V184.18 H137.80 V184.92 H138.20 V185.65 H138.60 V186.37 H139.00 V187.08 H139.40 V187.79 H139.80 V188.48 H140.20 V189.18 H140.60 V189.86 H141.00 V190.54 H141.40 V191.21 H141.80 V191.87 H142.20 V192.52 H142.60 V193.17 H143.00 V193.81 H143.40 V194.45 H143.80 V195.08 H144.20 V195.70 H144.60 V196.31 H145.00 V196.92 H145.40 V197.52 H145.80 V198.11 H146.20 V198.70 H146.60 V199.28 H147.00 V199.86 H147.40 V200.43 H147.80 V200.99 H148.20 V201.55 H148.60 V202.10 H149.00 V202.64 H149.40 V203.18 H149.80 V203.71 H150.20 V204.24 H150.60 V204.76 H151.00 V205.27 H151.40 V205.78 H151.80 V206.28 H152.20 V206.78 H152.60 V207.27 H153.00 V207.76 H153.40 V208.24 H153.80 V208.71 H154.20 V209.18 H154.60 V209.65 H155.00 V210.11 H155.40 V210.56 H155.80 V211.01 H156.20 V211.45 H156.60 V211.89 H157.00 V212.32 H157.40 V212.75 H157.80 V213.18 H158.20 V213.60 H158.60 V214.01 H159.00 V214.42 H159.40 V214.82 H159.80 V215.23 H160.20 V215.62 H160.60 V216.01 H161.00 V216.40 H161.40 V216.78 H161.80 V217.16 H162.20 V217.53 H162.60 V217.90 H163.00 V218.27 H163.40 V218.63 H163.80 V218.99 H164.20 V219.34 H164.60 V219.69 H165.00 V220.03 H165.40 V220.37 H165.80 V220.71 H166.20 V221.05 H166.60 V221.38 H167.00 V221.70 H167.40 V222.03 H167.80 V222.35 H168.20 V222.66 H168.60 V222.97 H169.00 V223.28 H169.40 V223.59 H169.80 V223.89 H170.20 V224.19 H170.60 V224.49 H171.00 V224.78 H171.40 V225.07 H171.80 V225.36 H172.20 V225.64 H172.60 V225.93 H173.00 V226.20 H173.40 V226.48 H173.80 V226.75 H174.20 V227.03 H174.60 V227.29 H175.00 V227.56 H175.40 V227.82 H175.80 V228.08 H176.20 V228.34 H176.60 V228.60 H177.00 V228.85 H177.40 V229.11 H177.80 V229.35 H178.20 V229.60 H178.60 V229.85 H179.00 V230.09 H179.40 V230.33 H179.80 V230.57 H180.20 V230.81 H180.60 V231.05 H181.00 V231.28 H181.40 V231.52 H181.80 V231.75 H182.20 V231.98 H182.60 V232.21 H183.00 V232.43 H183.40 V232.66 H183.80 V232.88 H184.20 V233.11 H184.60 V233.33 H185.00 V233.55 H185.40 V233.77 H185.80 V233.99 H186.20 V234.21 H186.60 V234.42 H187.00 V234.64 H187.40 V234.85 H187.80 V235.07 H188.20 V235.28 H188.60 V235.49 H189.00 V235.71 H189.40 V235.92 H189.80 V236.13 H190.20 V236.33 H190.60 V236.54 H191.00 V236.75 H191.40 V236.95 H191.80 V237.16 H192.20 V237.36 H192.60 V237.57 H193.00 V237.77 H193.40 V237.97 H193.80 V238.17 H194.20 V238.37 H194.60 V238.57 H195.00 V238.77 H195.40 V238.96 H195.80 V239.16 H196.20 V239.35 H196.60 V239.55 H197.00 V239.74 H197.40 V239.93 H197.80 V240.13 H198.20 V240.32 H198.60 V240.51 H199.00 V240.70 H199.40 V240.88 H199.80 V241.07 H200.20 V241.26 H200.60 V241.44 H201.00 V241.63 H201.40 V241.81 H201.80 V241.99 H202.20 V242.18 H202.60 V242.36 H203.00 V242.54 H203.40 V242.72 H203.80 V242.90 H204.20 V243.08 H204.60 V243.25 H205.00 V243.43 H205.40 V243.60 H205.80 V243.78 H206.20 V243.95 H206.60 V244.13 H207.00 V244.30 H207.40 V244.47 H207.80 V244.64 H208.20 V244.81 H208.60 V244.98 H209.00 V245.15 H209.40 V245.31 H209.80 V245.48 H210.20 V245.65 H210.60 V245.81 H211.00 V245.97 H211.40 V246.14 H211.80 V246.30 H212.20 V246.46 H212.60 V246.62 H213.00 V246.78 H213.40 V246.94 H213.80 V247.10 H214.20 V247.26 H214.60 V247.42 H215.00 V247.57 H215.40 V247.73 H215.80 V247.88 H216.20 V248.04 H216.60 V248.19 H217.00 V248.34 H217.40 V248.49 H217.80 V248.64 H218.20 V248.79 H218.60 V248.94 H219.00 V249.09 H219.40 V249.24 H219.80 V249.39 H220.20 V249.53 H220.60 V249.68 H221.00 V249.82 H221.40 V249.97 H221.80 V250.11 H222.20 V250.25 H222.60 V250.40 H223.00 V250.54 H223.40 V250.68 H223.80 V250.82 H224.20 V250.96 H224.60 V251.09 H225.00 V251.23 H225.40 V251.37 H225.80 V251.51 H226.20 V251.64 H226.60 V251.78 H227.00 V251.91 H227.40 V252.04 H227.80 V252.18 H228.20 V252.31 H228.60 V252.44 H229.00 V252.57 H229.40 V252.70 H229.80 V252.83 H230.20 V252.96 H230.60 V253.09 H231.00 V253.21 H231.40 V253.34 H231.80 V253.46 H232.20 V253.59 H232.60 V253.71 H233.00 V253.84 H233.40 V253.96 H233.80 V254.08 H234.20 V254.21 H234.60 V254.33 H235.00 V254.45 H235.40 V254.57 H235.80 V254.69 H236.20 V254.80 H236.60 V254.92 H237.00 V255.04 H237.40 V255.16 H237.80 V255.27 H238.20 V255.39 H238.60 V255.50 H239.00 V255.62 H239.40 V255.73 H239.80 V255.84 H240.20 V255.95 H240.60 V256.07 H241.00 V256.18 H241.40 V256.29 H241.80 V256.40 H242.20 V256.51 H242.60 V256.61 H243.00 V256.72 H243.40 V256.83 H243.80 V256.94 H244.20 V257.04 H244.60 V257.15 H245.00 V257.25 H245.40 V257.36 H245.80 V257.46 H246.20 V257.56 H246.60 V257.67 H247.00 V257.77 H247.40 V257.87 H247.80 V257.97 H248.20 V258.07 H248.60 V258.17 H249.00 V258.27 H249.40 V258.37 H249.80 V258.46 H250.20 V258.56 H250.60 V258.66 H251.00 V258.75 H251.40 V258.85 H251.80 V258.94 H252.20 V259.04 H252.60 V259.13 H253.00 V259.23 H253.40 V259.32 H253.80 V259.41 H254.20 V259.50 H254.60 V259.59 H255.00 V259.68 H255.40 V259.77 H255.80 V259.86 H256.20 V259.95 H256.60 V260.04 H257.00 V260.13 H257.40 V260.22 H257.80 V260.30 H258.20 V260.39 H258.60 V260.47 H259.00 V260.56 H259.40 V260.64 H259.80 V260.73 H260.20 V260.81 H260.60 V260.90 H261.00 V260.98 H261.40 V261.06 H261.80 V261.14 H262.20 V261.22 H262.60 V261.30 H263.00 V261.38 H263.40 V261.46 H263.80 V261.54 H264.20 V261.62 H264.60 V261.70 H265.00 V261.78 H265.40 V261.85 H265.80 V261.93 H266.20 V262.01 H266.60 V262.08 H267.00 V262.16 H267.40 V262.23 H267.80 V262.31 H268.20 V262.38 H268.60 V262.46 H269.00 V262.53 H269.40 V262.60 H269.80 V262.67 H270.20 V262.74 H270.60 V262.82 H271.00 V262.89 H271.40 V262.96 H271.80 V263.03 H272.20 V263.10 H272.60 V263.16 H273.00 V263.23 H273.40 V263.30 H273.80 V263.37 H274.20 V263.44 H274.60 V263.50 H275.00 V263.57 H275.40 V263.64 H275.80 V263.70 H276.20 V263.77 H276.60 V263.83 H277.00 V263.90 H277.40 V263.96 H277.80 V264.02 H278.20 V264.09 H278.60 V264.15 H279.00 V264.21 H279.40 V264.27 H279.80 V264.33 H280.20 V264.39 H280.60 V264.46 H281.00 V264.52 H281.40 V264.58 H281.80 V264.63 H282.20 V264.69 H282.60 V264.75 H283.00 V264.81 H283.40 V264.87 H283.80 V264.93 H284.20 V264.98 H284.60 V265.04 H285.00 V265.10 H285.40 V265.15 H285.80 V265.21 H286.20 V265.26 H286.60 V265.32 H287.00 V265.37 H287.40 V265.43 H287.80 V265.48 H288.20 V265.54 H288.60 V265.59 H289.00 V265.64 H289.40 V265.69 H289.80 V265.75 H290.20 V265.80 H290.60 V265.85 H291.00 V265.90 H291.40 V265.95 H291.80 V266.00 H292.20 V266.05 H292.60 V266.10 H293.00 V266.15 H293.40 V266.20 H293.80 V266.25 H294.20 V266.30 H294.60 V266.35 H295.00 V266.40 H295.40 V266.44 H295.80 V266.49 H296.20 V266.54 H296.60 V266.58 H297.00 V266.63 H297.40 V266.68 H297.80 V266.72 H298.20 V266.77 H298.60 V266.81 H299.00 V266.86 H299.40 V266.90 H299.80 V266.95 H300.20 V266.99 H300.60 V267.04 H301.00 V267.08 H301.40 V267.12 H301.80 V267.17 H302.20 V267.21 H302.60 V267.25 H303.00 V267.29 H303.40 V267.34 H303.80 V267.38 H304.20 V267.42 H304.60 V267.46 H305.00 V267.50 H305.40 V267.54 H305.80 V267.58 H306.20 V267.62 H306.60 V267.66 H307.00 V267.70 H307.40 V267.74 H307.80 V267.78 H308.20 V267.82 H308.60 V267.86 H309.00 V267.90 H309.40 V267.94 H309.80 V267.98 H310.20 V268.01 H310.60 V268.05 H311.00 V268.09 H311.40 V268.13 H311.80 V268.16 H312.20 V268.20 H312.60 V268.24 H313.00 V268.27 H313.40 V268.31 H313.80 V268.34 H314.20 V268.38 H314.60 V268.42 H315.00 V268.45 H315.40 V268.49 H315.80 V268.52 H316.20 V268.56 H316.60 V268.59 H317.00 V268.63 H317.40 V268.66 H317.80 V268.69 H318.20 V268.73 H318.60 V268.76 H319.00 V268.80 H319.40 V268.83 H319.80 V268.86 H320.20 V268.90 H320.60 V268.93 H321.00 V268.96 H321.40 V268.99 H321.80 V269.03 H322.20 V269.06 H322.60 V269.09 H323.00 V269.12 H323.40 V269.16 H323.80 V269.19 H324.20 V269.22 H324.60 V269.25 H325.00 V269.28 H325.40 V269.31 H325.80 V269.34 H326.20 V269.37 H326.60 V269.41 H327.00 V269.44 H327.40 V269.47 H327.80 V269.50 H328.20 V269.53 H328.60 V269.56 H329.00 V269.59 H329.40 V269.62 H329.80 V269.65 H330.20 V269.68 H330.60 V269.71 H331.00 V269.74 H331.40 V269.77 H331.80 V269.80 H332.20 V269.82 H332.60 V269.85 H333.00 V269.88 H333.40 V269.91 H333.80 V269.94 H334.20 V269.97 H334.60 V270.00 H335.00 V270.03 H335.40 V270.06 H335.80 V270.08 H336.20 V270.11 H336.60 V270.14 H337.00 V270.17 H337.40 V270.20 H337.80 V270.23 H338.20 V270.25 H338.60 V270.28 H339.00 V270.31 H339.40 V270.34 H339.80 V270.37 H340.20 V270.39 H340.60 V270.42 H341.00 V270.45 H341.40 V270.48 H341.80 V270.50 H342.20 V270.53 H342.60 V270.56 H343.00 V270.59 H343.40 V270.62 H343.80 V270.64 H344.20 V270.67 H344.60 V270.70 H345.00 V270.73 H345.40 V270.75 H345.80 V270.78 H346.20 V270.81 H346.60 V270.83 H347.00 V270.86 H347.40 V270.89 H347.80 V270.92 H348.20 V270.94 H348.60 V270.97 H349.00 V271.00 H349.40 V271.03 H349.80 V271.05 H350.20 V271.08 H350.60 V271.11 H351.00 V271.14 H351.40 V271.16 H351.80 V271.19 H352.20 V271.22 H352.60 V271.24 H353.00 V271.27 H353.40 V271.30 H353.80 V271.33 H354.20 V271.35 H354.60 V271.38 H355.00 V271.41 H355.40 V271.43 H355.80 V271.46 H356.20 V271.49 H356.60 V271.52 H357.00 V271.54 H357.40 V271.57 H357.80 V271.60 H358.20 V271.62 H358.60 V271.65 H359.00 V271.68 H359.40 V271.70 H359.80 V271.73 H360.20 V271.76 H360.60 V271.78 H361.00 V271.81 H361.40 V271.84 H361.80 V271.87 H362.20 V271.89 H362.60 V271.92 H363.00 V271.95 H363.40 V271.97 H363.80 V272.00 H364.20 V272.03 H364.60 V272.05 H365.00 V272.08 H365.40 V272.11 H365.80 V272.13 H366.20 V272.16 H366.60 V272.19 H367.00 V272.21 H367.40 V272.24 H367.80 V272.27 H368.20 V272.29 H368.60 V272.32 H369.00 V272.34 H369.40 V272.37 H369.80 V272.40 H370.20 V272.42 H370.60 V272.45 H371.00 V272.48 H371.40 V272.50 H371.80 V272.53 H372.20 V272.56 H372.60 V272.58 H373.00 V272.61 H373.40 V272.63 H373.80 V272.66 H374.20 V272.69 H374.60 V272.71 H375.00 V272.74 H375.40 V272.77 H375.80 V272.79 H376.20 V272.82 H376.60 V272.84 H377.00 V272.87 H377.40 V272.90 H377.80 V272.92 H378.20 V272.95 H378.60 V272.97 H379.00 V273.00 H379.40 V273.02 H379.80 V273.05 H380.20 V273.08 H380.60 V273.10 H381.00 V273.13 H381.40 V273.15 H381.80 V273.18 H382.20 V273.20 H382.60 V273.23 H383.00 V273.26 H383.40 V273.28 H383.80 V273.31 H384.20 V273.33 H384.60 V273.36 H385.00 V273.38 H385.40 V273.41 H385.80 V273.43 H386.20 V273.46 H386.60 V273.48 H387.00 V273.51 H387.40 V273.53 H387.80 V273.56 H388.20 V273.59 H388.60 V273.61 H389.00 V273.64 H389.40 V273.66 H389.80 V273.69 H390.20 V273.71 H390.60 V273.74 H391.00 V273.76 H391.40 V273.79 H391.80 V273.81 H392.20 V273.84 H392.60 V273.86 H393.00 V273.88 H393.40 V273.91 H393.80 V273.93 H394.20 V273.96 H394.60 V273.98 H395.00 V274.01 H395.40 V274.03 H395.80 V274.06 H396.20 V274.08 H396.60 V274.11 H397.00 V274.13 H397.40 V274.15 H397.80 V274.18 H398.20 V274.20 H398.60 V274.23 H399.00 V274.25 H399.40 V274.28 H399.80 V274.30 H400.20 V274.32 H400.60 V274.35 H401.00 V274.37 H401.40 V274.40 H401.80 V274.42 H402.20 V274.44 H402.60 V274.47 H403.00 V274.49 H403.40 V274.52 H403.80 V274.54 H404.20 V274.56 H404.60 V274.59 H405.00 V274.61 H405.40 V274.64 H405.80 V274.66 H406.20 V274.68 H406.60 V274.71 H407.00 V274.73 H407.40 V274.75 H407.80 V274.78 H408.20 V274.80 H408.60 V274.82 H409.00 V274.85 H409.40 V274.87 H409.80 V274.89 H410.20 V274.92 H410.60 V274.94 H411.00 V274.96 H411.40 V274.99 H411.80 V275.01 H412.20 V275.03 H412.60 V275.05 H413.00 V275.08 H413.40 V275.10 H413.80 V275.12 H414.20 V275.15 H414.60 V275.17 H415.00 V275.19 H415.40 V275.21 H415.80 V275.24 H416.20 V275.26 H416.60 V275.28 H417.00 V275.30 H417.40 V275.33 H417.80 V275.35 H418.20 V275.37 H418.60 V275.39 H419.00 V275.41 H419.40 V275.44 H419.80 V275.46 H420.20 V275.48 H420.60 V275.50 H421.00 V275.53 H421.40 V275.55 H421.80 V275.57 H422.20 V275.59 H422.60 V275.61 H423.00 V275.63 H423.40 V275.66 H423.80 V275.68 H424.20 V275.70 H424.60 V275.72 H425.00 V275.74 H425.40 V275.76 H425.80 V275.78 H426.20 V275.81 H426.60 V275.83 H427.00 V275.85 H427.40 V275.87 H427.80 V275.89 H428.20 V275.91 H428.60 V275.93 H429.00 V275.95 H429.40 V275.98 H429.80 V276.00 H430.20 V276.02 H430.60 V276.04 H431.00 V276.06 H431.40 V276.08 H431.80 V276.10 H432.20 V276.12 H432.60 V276.14 H433.00 V276.16 H433.40 V276.18 H433.80 V276.20 H434.20 V276.22 H434.60 V276.24 H435.00 V276.26 H435.40 V276.28 H435.80 V276.30 H436.20 V276.32 H436.60 V276.34 H437.00 V276.36 H437.40 V276.38 H437.80 V276.40 H438.20 V276.42 H438.60 V276.44 H439.00 V276.46 H439.40 V276.48 H439.80 V276.50 H440.20 V276.52 H440.60 V276.54 H441.00 V276.56 H441.40 V276.58 H441.80 V276.60 H442.20 V276.62 H442.60 V276.64 H443.00 V276.66 H443.40 V276.67 H443.80 V276.69 H444.20 V276.71 H444.60 V276.73 H445.00 V276.75 H445.40 V276.77 H445.80 V276.79 H446.20 V276.81 H446.60 V276.83 H447.00 V276.84 H447.40 V276.86 H447.80 V276.88 H448.20 V276.90 H448.60 V276.92 H449.00 V276.94 H449.40 V276.95 H449.80 V276.97 H450.20 V276.99 H450.60 V277.01 H451.00 V277.03 H451.40 V277.04 H451.80 V277.06 H452.20 V277.08 H452.60 V277.10 H453.00 V277.11 H453.40 V277.13 H453.80 V277.15 H454.20 V277.17 H454.60 V277.18 H455.00 V277.20 H455.40 V277.22 H455.80 V277.24 H456.20 V277.25 H456.60 V277.27 H457.00 V277.29 H457.40 V277.30 H457.80 V277.32 H458.20 V277.34 H458.60 V277.35 H459.00 V277.37 H459.40 V277.39 H459.80 V277.40 H460.20 V277.42 H460.60 V277.44 H461.00 V277.45 H461.40 V277.47 H461.80 V277.49 H462.20 V277.50 H462.60 V277.52 H463.00 V277.53 H463.40 V277.55 H463.80 V277.57 H464.20 V277.58 H464.60 V277.60 H465.00 V277.61 H465.40 V277.63 H465.80 V277.64 H466.20 V277.66 H466.60 V277.68 H467.00 V277.69 H467.40 V277.71 H467.80 V277.72 H468.20 V277.74 H468.60 V277.75 H469.00 V277.77 H469.40 V277.78 H469.80 V277.80 H470.20 V277.81 H470.60 V277.83 H471.00 V277.84 H471.40 V277.85 H471.80 V277.87 H472.20 V277.88 H472.60 V277.90 H473.00 V277.91 H473.40 V277.93 H473.80 V277.94 H474.20 V277.95 H474.60 V277.97 H475.00 V277.98 H475.40 V278.00 H475.80 V278.01 H476.20 V278.02 H476.60 V278.04 H477.00 V278.05 H477.40 V278.06 H477.80 V278.08 H478.20 V278.09 H478.60 V278.10 H479.00 V278.12 H479.40 V278.13 H479.80 V278.14 H480.20 V278.16 H480.60 V278.17 H481.00 V278.18 H481.40 V278.20 H481.80 V278.21 H482.20 V278.22 H482.60 V278.23 H483.00 V278.25 H483.40 V278.26 H483.80 V278.27 H484.20 V278.28 H484.60 V278.29 H485.00 V278.31 H485.40 V278.32 H485.80 V278.33 H486.20 V278.34 H486.60 V278.35 H487.00 V278.37 H487.40 V278.38 H487.80 V278.39 H488.20 V278.40 H488.60 V278.41 H489.00 V278.42 H489.40 V278.43 H489.80 V278.44 H490.20 V278.46 H490.60 V278.47 H491.00 V278.48 H491.40 V278.49 H491.80 V278.50 H492.20 V278.51 H492.60 V278.52 H493.00 V278.53 H493.40 V278.54 H493.80 V278.55 H494.20 V278.56" stroke="#B0134A" stroke-width="2.9" fill="none" stroke-linejoin="round" stroke-dasharray="12.28 12.28"/>
<text x="292.4" y="383.0" font-size="10.8" text-anchor="middle" fill="#1a1a1a" color="#1a1a1a" >Number at risk by time</text>
<path d="M69.9 387.7V472.5H516" stroke="#727272" stroke-width="1.6" fill="none"/>
<path d="M67.6 400.1H69.9" stroke="#333" stroke-width="1.2"/>
<text x="66.3" y="403.20000000000005" font-size="8.9" text-anchor="end" fill="#5A70A0" color="#5A70A0" >Low</text>
<text x="90.2" y="403.20000000000005" font-size="8.7" text-anchor="middle" fill="#111" color="#111" >13189</text>
<text x="191.2" y="403.20000000000005" font-size="8.7" text-anchor="middle" fill="#111" color="#111" >8217</text>
<text x="292.2" y="403.20000000000005" font-size="8.7" text-anchor="middle" fill="#111" color="#111" >6436</text>
<text x="393.2" y="403.20000000000005" font-size="8.7" text-anchor="middle" fill="#111" color="#111" >5330</text>
<text x="494.2" y="403.20000000000005" font-size="8.7" text-anchor="middle" fill="#111" color="#111" >4517</text>
<path d="M67.6 420.1H69.9" stroke="#333" stroke-width="1.2"/>
<text x="66.3" y="423.20000000000005" font-size="8.9" text-anchor="end" fill="#62CF9A" color="#62CF9A" >Intermediate</text>
<text x="90.2" y="423.20000000000005" font-size="8.7" text-anchor="middle" fill="#111" color="#111" >55959</text>
<text x="191.2" y="423.20000000000005" font-size="8.7" text-anchor="middle" fill="#111" color="#111" >28980</text>
<text x="292.2" y="423.20000000000005" font-size="8.7" text-anchor="middle" fill="#111" color="#111" >20378</text>
<text x="393.2" y="423.20000000000005" font-size="8.7" text-anchor="middle" fill="#111" color="#111" >15757</text>
<text x="494.2" y="423.20000000000005" font-size="8.7" text-anchor="middle" fill="#111" color="#111" >12497</text>
<path d="M67.6 440.0H69.9" stroke="#333" stroke-width="1.2"/>
<text x="66.3" y="443.1" font-size="8.9" text-anchor="end" fill="#333333" color="#333333" >High</text>
<text x="90.2" y="443.1" font-size="8.7" text-anchor="middle" fill="#111" color="#111" >15706</text>
<text x="191.2" y="443.1" font-size="8.7" text-anchor="middle" fill="#111" color="#111" >5751</text>
<text x="292.2" y="443.1" font-size="8.7" text-anchor="middle" fill="#111" color="#111" >3676</text>
<text x="393.2" y="443.1" font-size="8.7" text-anchor="middle" fill="#111" color="#111" >2709</text>
<text x="494.2" y="443.1" font-size="8.7" text-anchor="middle" fill="#111" color="#111" >2107</text>
<path d="M67.6 460.4H69.9" stroke="#333" stroke-width="1.2"/>
<text x="66.3" y="463.5" font-size="8.9" text-anchor="end" fill="#9A3566" color="#9A3566" >Very High</text>
<text x="90.2" y="463.5" font-size="8.7" text-anchor="middle" fill="#111" color="#111" >4207</text>
<text x="191.2" y="463.5" font-size="8.7" text-anchor="middle" fill="#111" color="#111" >1142</text>
<text x="292.2" y="463.5" font-size="8.7" text-anchor="middle" fill="#111" color="#111" >682</text>
<text x="393.2" y="463.5" font-size="8.7" text-anchor="middle" fill="#111" color="#111" >520</text>
<text x="494.2" y="463.5" font-size="8.7" text-anchor="middle" fill="#111" color="#111" >424</text>
<path d="M90.20 472.5V474.8" stroke="#333" stroke-width="1.2"/>
<text x="90.2" y="482.5" font-size="8.5" text-anchor="middle" fill="#4D4D4D" color="#4D4D4D" >0</text>
<path d="M191.20 472.5V474.8" stroke="#333" stroke-width="1.2"/>
<text x="191.2" y="482.5" font-size="8.5" text-anchor="middle" fill="#4D4D4D" color="#4D4D4D" >1</text>
<path d="M292.20 472.5V474.8" stroke="#333" stroke-width="1.2"/>
<text x="292.2" y="482.5" font-size="8.5" text-anchor="middle" fill="#4D4D4D" color="#4D4D4D" >2</text>
<path d="M393.20 472.5V474.8" stroke="#333" stroke-width="1.2"/>
<text x="393.2" y="482.5" font-size="8.5" text-anchor="middle" fill="#4D4D4D" color="#4D4D4D" >3</text>
<path d="M494.20 472.5V474.8" stroke="#333" stroke-width="1.2"/>
<text x="494.2" y="482.5" font-size="8.5" text-anchor="middle" fill="#4D4D4D" color="#4D4D4D" >4</text>
<text x="292.0" y="493.6" font-size="10.6" text-anchor="middle" fill="#1a1a1a" color="#1a1a1a" >Years</text>
<text transform="translate(14.5 429.5) rotate(-90)" font-size="10.6" text-anchor="middle" fill="#1a1a1a" color="#1a1a1a">DRI</text>
</svg>
</body></html>
